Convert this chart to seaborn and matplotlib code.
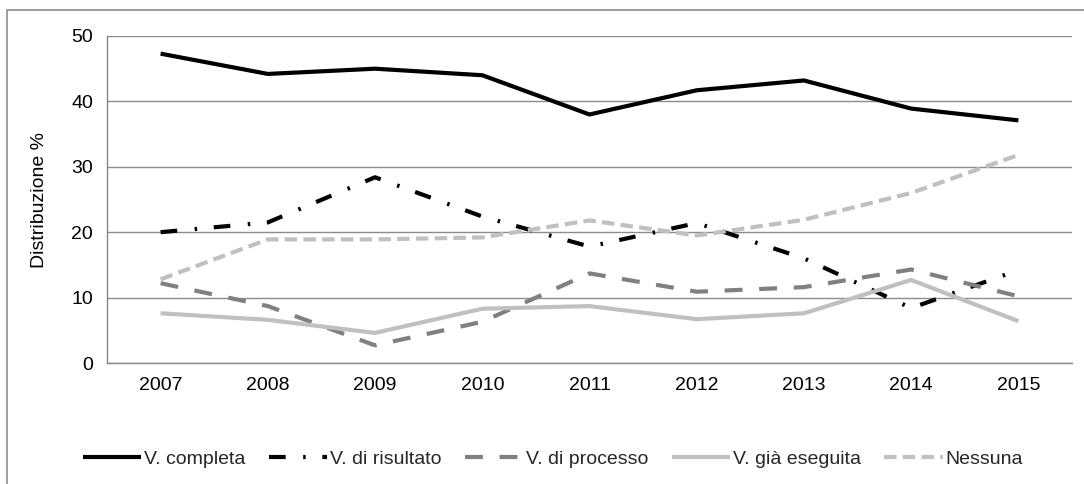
import matplotlib
matplotlib.use("Agg")
import matplotlib.pyplot as plt
from matplotlib.patches import Rectangle
from matplotlib.ticker import FixedLocator, NullFormatter
import numpy as np
import pandas as pd
import seaborn as sns

# Survey years and share (%) of each type of evaluation planned
anni = ["2007", "2008", "2009", "2010", "2011", "2012", "2013", "2014", "2015"]
v_completa = [47.3, 44.2, 45.0, 44.0, 38.0, 41.7, 43.2, 38.9, 37.1]
v_risultato = [20.0, 21.5, 28.4, 22.4, 17.8, 21.4, 16.0, 8.4, 14.2]
v_processo = [12.2, 8.7, 2.7, 6.3, 13.7, 10.9, 11.6, 14.3, 10.2]
v_gia_eseguita = [7.6, 6.6, 4.6, 8.3, 8.7, 6.7, 7.6, 12.7, 6.4]
nessuna = [12.8, 18.9, 18.9, 19.2, 21.8, 19.5, 21.9, 26.0, 31.8]

serie = {
    "V. completa": v_completa,
    "V. di risultato": v_risultato,
    "V. di processo": v_processo,
    "V. già eseguita": v_gia_eseguita,
    "Nessuna": nessuna,
}

stili = {
    "V. completa": dict(color="#000000", dashes=None),
    "V. di risultato": dict(color="#000000", dashes=(4.0, 4.2, 0.6, 4.0)),
    "V. di processo": dict(color="#808080", dashes=(4.3, 4.0)),
    "V. già eseguita": dict(color="#c0c0c0", dashes=None),
    "Nessuna": dict(color="#c0c0c0", dashes=(3.0, 1.5)),
}

FS = 14

sns.set_theme(style="white")
plt.rcParams["font.family"] = ["Liberation Sans", "DejaVu Sans"]
plt.rcParams["font.size"] = FS

fig = plt.figure(figsize=(10.84, 4.84), dpi=100)
ax = fig.add_axes([107 / 1084, 1 - 363 / 484, (1072 - 107) / 1084, (363 - 36) / 484])

pos = np.arange(len(anni))
for nome, valori in serie.items():
    df = pd.DataFrame({"pos": pos, "val": valori})
    st = stili[nome]
    line_kw = dict(color=st["color"], lw=3.0, label=nome,
                   solid_capstyle="butt", dash_capstyle="butt")
    sns.lineplot(data=df, x="pos", y="val", ax=ax, **line_kw)
    ln = ax.get_lines()[-1]
    if st["dashes"] is not None:
        ln.set_dashes(st["dashes"])

ax.set_xlim(-0.5, len(anni) - 0.5)
ax.set_ylim(0, 50)
ax.set_yticks([0, 10, 20, 30, 40, 50])
ax.set_xticks(pos)
ax.set_xticklabels(anni)
ax.xaxis.set_minor_locator(FixedLocator(np.arange(-0.5, len(anni), 1.0)))
ax.xaxis.set_minor_formatter(NullFormatter())
ax.tick_params(axis="x", which="major", length=0, pad=10, labelsize=FS, colors="#000000")
ax.tick_params(axis="x", which="minor", length=5, width=1, color="#868686", direction="out")
ax.tick_params(axis="y", length=5, width=1, color="#868686", direction="out", pad=5,
               labelsize=FS, labelcolor="#000000")
ax.grid(axis="y", color="#8c8c8c", lw=1)
ax.grid(axis="x", visible=False)
ax.set_axisbelow(True)
for s in ["top", "right"]:
    ax.spines[s].set_visible(False)
for s in ["left", "bottom"]:
    ax.spines[s].set_color("#868686")
    ax.spines[s].set_linewidth(1)
ax.set_xlabel("")
ax.set_ylabel("Distribuzione %", fontsize=FS, labelpad=17, color="#000000")

handles, labels = ax.get_legend_handles_labels()
fig.legend(handles, labels, loc="center", bbox_to_anchor=(0.51, 1 - 459 / 484), ncol=5,
           frameon=False, handlelength=3.0, handletextpad=0.15, columnspacing=1.2,
           fontsize=FS)
if ax.get_legend() is not None:
    ax.get_legend().remove()

# outer frame around the chart area
fig.patches.append(Rectangle((7 / 1084, -0.1), 1.2, 1 - 10 / 484 + 0.1,
                             transform=fig.transFigure, fill=False,
                             edgecolor="#8c8c8c", lw=1.2))

fig.savefig("out.png", dpi=100, facecolor="white")
